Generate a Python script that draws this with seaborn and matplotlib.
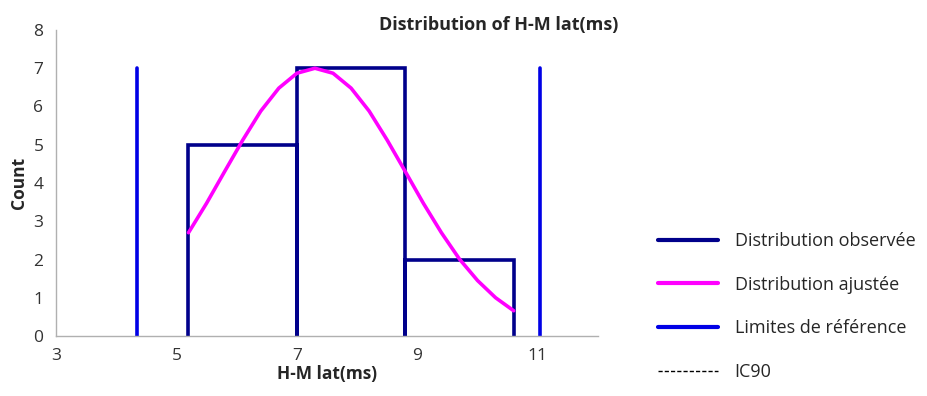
import numpy as np
import pandas as pd
import matplotlib
matplotlib.use("Agg")
import matplotlib.pyplot as plt
from matplotlib.lines import Line2D
import seaborn as sns

# ---- data ----
bin_edges = [5.2, 7.0, 8.8, 10.6]
counts = [5, 7, 2]
ref_limits = [4.35, 11.03]
ref_height = 7
fit_x = [5.2, 5.5, 5.8, 6.1, 6.4, 6.7, 7.0, 7.3, 7.6, 7.9, 8.2, 8.5, 8.8,
         9.1, 9.4, 9.7, 10.0, 10.3, 10.6]
fit_y = [2.70, 3.47, 4.30, 5.12, 5.88, 6.48, 6.87, 7.00, 6.87, 6.48, 5.88,
         5.12, 4.30, 3.47, 2.70, 2.01, 1.45, 1.00, 0.66]
x_ticks = [3, 5, 7, 9, 11]
y_ticks = [0, 1, 2, 3, 4, 5, 6, 7, 8]
legend_labels = ["Distribution observée", "Distribution ajustée",
                 "Limites de référence", "IC90"]

sns.set_style("white")
plt.rcParams["font.family"] = ["Open Sans", "DejaVu Sans"]

navy = "#00008B"
magenta = "#FF00FF"
blue = "#0000E6"

fig = plt.figure(figsize=(9.28, 3.96), dpi=100)
ax = fig.add_axes([56 / 928, 1 - 336 / 396, (598 - 56) / 928, (336 - 30) / 396])

# observed distribution outline (bar outlines as polyline)
hx, hy = [], []
for i, c in enumerate(counts):
    l, r = bin_edges[i], bin_edges[i + 1]
    hx += [l, l, r, r]
    hy += [0, c, c, 0]
hist_df = pd.DataFrame({"x": hx, "y": hy})
sns.lineplot(data=hist_df, x="x", y="y", sort=False, estimator=None,
             color=navy, linewidth=2.6, ax=ax, solid_joinstyle="miter")

# fitted distribution
fit_df = pd.DataFrame({"x": fit_x, "y": fit_y})
sns.lineplot(data=fit_df, x="x", y="y", sort=False, estimator=None,
             color=magenta, linewidth=2.6, ax=ax)

# reference limits
for lim in ref_limits:
    lim_df = pd.DataFrame({"x": [lim, lim], "y": [0, ref_height]})
    sns.lineplot(data=lim_df, x="x", y="y", sort=False, estimator=None,
                 color=blue, linewidth=2.6, ax=ax)

ax.set_xlim(3, 12)
ax.set_ylim(0, 8)
ax.set_xticks(x_ticks)
ax.set_yticks(y_ticks)
ax.tick_params(axis="both", labelsize=12.5, length=4, width=0.8,
               direction="out", pad=5, colors="#aaaaaa", labelcolor="#333333")
for s in ["top", "right"]:
    ax.spines[s].set_visible(False)
for s in ["left", "bottom"]:
    ax.spines[s].set_color("#b0b0b0")
    ax.spines[s].set_linewidth(1.0)
ax.set_xlabel("H-M lat(ms)", fontsize=12.5, fontweight="bold", labelpad=0)
ax.set_ylabel("Count", fontsize=12.5, fontweight="bold", labelpad=4)

fig.text(499 / 928, 1 - 25 / 396, "Distribution of H-M lat(ms)",
         ha="center", va="center", fontsize=13, fontweight="bold")

handles = [
    Line2D([], [], color=navy, linewidth=3),
    Line2D([], [], color=magenta, linewidth=3),
    Line2D([], [], color=blue, linewidth=3),
    Line2D([], [], color="black", linewidth=1, linestyle=(0, (3, 1.5))),
]
fig.legend(handles, legend_labels, loc="upper left",
           bbox_to_anchor=(658 / 928, 1 - 232 / 396), frameon=False,
           fontsize=13, handlelength=3.3, handletextpad=0.95,
           labelspacing=1.42, borderpad=0, borderaxespad=0)

fig.savefig("out.png", dpi=100)
